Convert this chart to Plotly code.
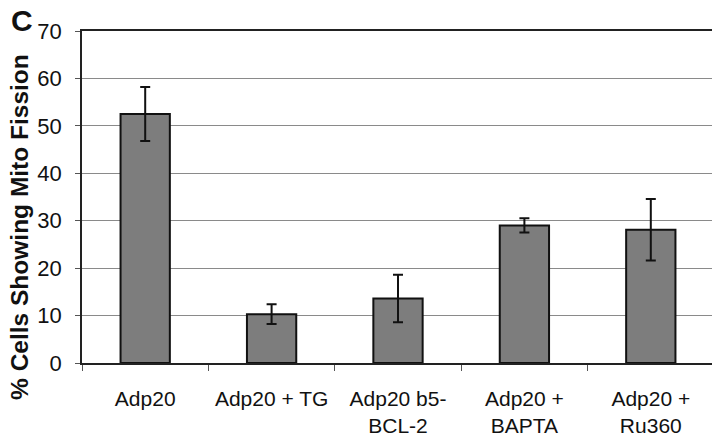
import plotly.graph_objects as go

categories = ["Adp20", "Adp20 + TG", "Adp20 b5-<br>BCL-2", "Adp20 +<br>BAPTA", "Adp20 +<br>Ru360"]
values = [52.5, 10.3, 13.6, 29.0, 28.1]
errors = [5.7, 2.1, 5.0, 1.5, 6.5]
y_ticks = [0, 10, 20, 30, 40, 50, 60, 70]

fig = go.Figure()
fig.add_trace(go.Bar(
    x=categories, y=values,
    marker=dict(color="#7d7d7d", line=dict(color="#111111", width=2)),
    error_y=dict(type="data", array=errors, visible=True, color="#111111", thickness=2, width=5),
    width=0.39,
))

font_family = "Liberation Sans, Arial, sans-serif"
fig.update_layout(
    width=720, height=440,
    margin=dict(l=74, r=14, t=23, b=85, autoexpand=False),
    paper_bgcolor="white", plot_bgcolor="white",
    showlegend=False,
    font=dict(family=font_family, size=21, color="#111111"),
    title=dict(text="<b>C</b>", x=0.004, xref="container", xanchor="left",
               y=0.995, yref="container", yanchor="top", pad=dict(l=0, t=0),
               font=dict(family=font_family, size=30, color="#111111")),
    xaxis=dict(
        type="category", tickson="boundaries", ticks="outside", ticklen=6,
        tickcolor="#555555", tickwidth=1, automargin=False, tickangle=0,
        showline=True, linecolor="#222222", linewidth=1.5, mirror=True,
        showgrid=False, tickfont=dict(size=21), ticklabelstandoff=16,
    ),
    yaxis=dict(
        range=[0, 70], tickvals=y_ticks, ticks="outside", ticklen=5,
        tickcolor="#555555", showline=True, linecolor="#222222", linewidth=1.5,
        mirror=True, showgrid=True, gridcolor="#8a8a8a", gridwidth=1, automargin=False,
        tickfont=dict(size=22), ticklabelstandoff=9, zeroline=False,
    ),
    annotations=[
        dict(text="% Cells Showing Mito Fission", xref="paper", yref="paper",
             x=-0.098, y=0.41, textangle=-90, showarrow=False,
             font=dict(family=font_family, size=24.5, color="#111111", weight="bold"),
             xanchor="center", yanchor="middle"),
    ],
)

fig.write_html("out.html")
